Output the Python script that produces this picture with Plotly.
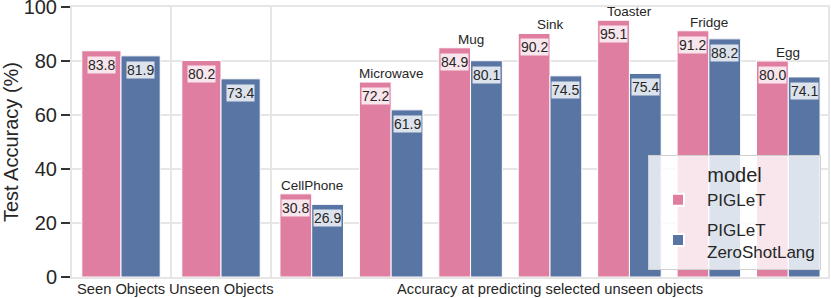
import plotly.graph_objects as go

# ---- data ----
models = ["PIGLeT", "PIGLeT<br>ZeroShotLang"]
panel_labels = ["Seen Objects", "Unseen Objects", "Accuracy at predicting selected unseen objects"]
seen_vals = [83.8, 81.9]
unseen_vals = [80.2, 73.4]
objects = ["CellPhone", "Microwave", "Mug", "Sink", "Toaster", "Fridge", "Egg"]
obj_piglet = [30.8, 72.2, 84.9, 90.2, 95.1, 91.2, 80.0]
obj_zeroshot = [26.9, 61.9, 80.1, 74.5, 75.4, 88.2, 74.1]
y_ticks = [0, 20, 40, 60, 80, 100]

colors = ["#e07ea1", "#5875a4"]
label_bg = ["rgba(255,255,255,0.8)", "rgba(255,255,255,0.8)"]
txt = "#262626"
grid = "#e6e6e6"
FONT = "Liberation Sans, Arial, sans-serif"

fig = go.Figure()

panels = [
    ("x", "y", [0], [[seen_vals[0]], [seen_vals[1]]]),
    ("x2", "y2", [0], [[unseen_vals[0]], [unseen_vals[1]]]),
    ("x3", "y3", list(range(len(objects))), [obj_piglet, obj_zeroshot]),
]

for pi, (xa, ya, xs, series) in enumerate(panels):
    for mi, vals in enumerate(series):
        fig.add_trace(go.Bar(
            x=xs, y=vals, name=models[mi], xaxis=xa, yaxis=ya,
            marker=dict(color=colors[mi], line=dict(color="white", width=1)),
            offsetgroup=str(mi), legendgroup=str(mi), showlegend=(pi == 2),
            hoverinfo="skip",
        ))
        for x, v in zip(xs, vals):
            fig.add_annotation(
                x=x + (-0.2 if mi == 0 else 0.2), y=v, xref=xa, yref=ya,
                text=f"{v:.1f}", showarrow=False, yanchor="top", yshift=-5,
                font=dict(family=FONT, size=14, color=txt),
                bgcolor=label_bg[mi], borderpad=0,
            )

# object names above groups
for i, name in enumerate(objects):
    fig.add_annotation(
        x=i, y=max(obj_piglet[i], obj_zeroshot[i]), xref="x3", yref="y3",
        text=name, showarrow=False, yanchor="bottom", yshift=-1,
        font=dict(family=FONT, size=13.5, color=txt),
    )

W = 756.0
domains = [[0, 98 / W], [100 / W, 198 / W], [200 / W, 1]]
ncat = [1, 1, len(objects)]
tickpos = [0, 0, (len(objects) - 1) / 2]

layout = dict(
    width=831, height=298,
    margin=dict(l=72, r=3, t=7, b=21),
    plot_bgcolor="white", paper_bgcolor="white",
    bargap=0.2, bargroupgap=0, barmode="group",
    font=dict(family=FONT, color=txt),
    showlegend=True,
    legend=dict(
        title=dict(text="model", font=dict(size=20, color=txt), side="top center"),
        font=dict(size=17, color=txt),
        x=576 / W, xanchor="left", y=0.025, yanchor="bottom",
        bgcolor="rgba(255,255,255,0.8)", bordercolor="#d0d0d0", borderwidth=1,
        itemsizing="constant", itemwidth=48, tracegroupgap=4,
    ),
)

for k in range(3):
    sfx = "" if k == 0 else str(k + 1)
    xref = "x" + sfx
    layout["xaxis" + sfx] = dict(
        domain=domains[k], range=[-0.5, ncat[k] - 0.5],
        showticklabels=False, ticks="", showgrid=False, automargin=False,
        showline=True, mirror=True, linecolor=grid, linewidth=2,
        zeroline=False, anchor="y" + sfx, fixedrange=True,
    )
    fig.add_annotation(
        x=tickpos[k], y=0, xref=xref, yref="paper", text=panel_labels[k],
        showarrow=False, yanchor="top", yshift=-2,
        font=dict(family=FONT, size=14.7, color=txt),
    )
    ydict = dict(
        range=[0, 100], tickvals=y_ticks, showgrid=True, gridcolor=grid, gridwidth=2,
        showline=True, mirror=True, linecolor=grid, linewidth=2, automargin=False,
        zeroline=False, anchor="x" + sfx, fixedrange=True,
    )
    if k == 0:
        ydict.update(
            ticks="outside", ticklen=9, tickwidth=2, tickcolor="#333333",
            tickfont=dict(size=20, color=txt), ticklabeloverflow="allow",
            title=dict(text="Test Accuracy (%)", font=dict(size=20, color=txt), standoff=12),
        )
    else:
        ydict.update(showticklabels=False, ticks="", matches="y")
    layout["yaxis" + sfx] = ydict

fig.update_layout(**layout)
fig.write_html(
    "out.html",
    config={"displayModeBar": False, "staticPlot": True},
    post_script="document.body.style.margin='0';document.body.style.overflow='hidden';",
)
